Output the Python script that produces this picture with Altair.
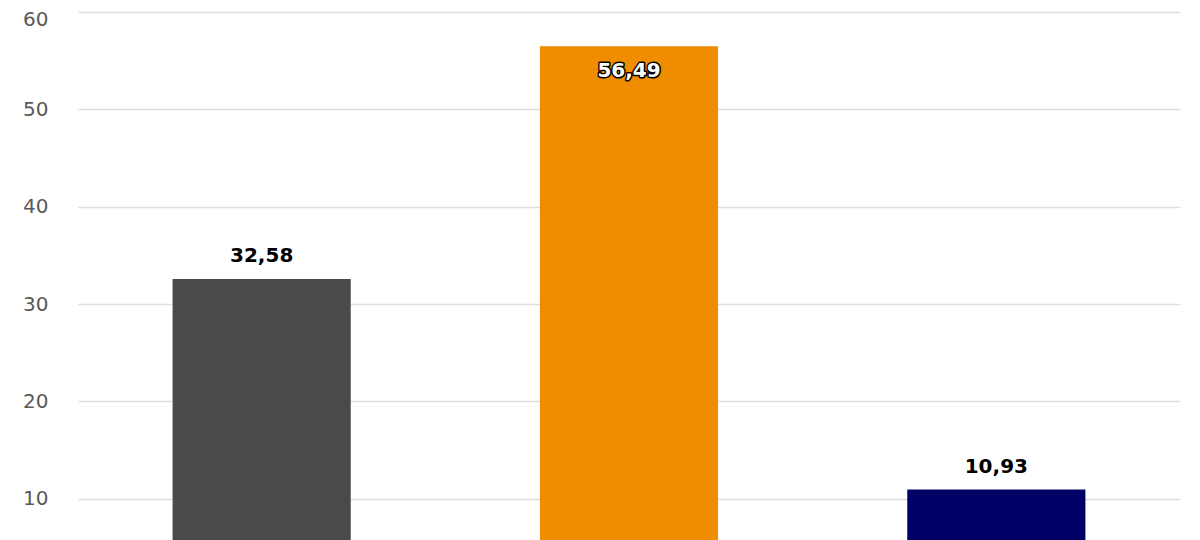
import altair as alt
import pandas as pd

categories = ["A", "B", "C"]
values = [32.58, 56.49, 10.93]
colors = ["#4a4a4a", "#f08c00", "#000066"]
ticks = [10, 20, 30, 40, 50, 60]

df = pd.DataFrame({
    "cat": categories,
    "value": values,
    "color": colors,
    "label": [f"{v:.2f}".replace(".", ",") for v in values],
})

x = alt.X("cat:N", sort=categories, axis=None,
          scale=alt.Scale(paddingInner=0.515, paddingOuter=0.2575))
y = alt.Y("value:Q", scale=alt.Scale(domain=[0, 60], nice=False),
          axis=alt.Axis(values=ticks, title=None, domain=False,
                        ticks=False, labelPadding=30, labelFontSize=20,
                        labelColor="#595959", labelFont="DejaVu Sans",
                        labelOffset={"condition": {"test": "datum.value == 60", "value": 7}, "value": 0},
                        gridColor="#dedede", gridWidth=1.5))

base = alt.Chart(df)
bars = base.mark_bar().encode(x=x, y=y, color=alt.Color("color:N", scale=None))

outside = base.transform_filter("datum.cat != 'B'").mark_text(
    baseline="bottom", dy=-13, fontSize=20, fontWeight="bold", font="DejaVu Sans",
    color="black").encode(x=x, y=y, text="label:N")

inside_outline = base.transform_filter("datum.cat == 'B'").mark_text(
    baseline="top", dy=15, fontSize=20, fontWeight="bold", font="DejaVu Sans",
    fill="black", stroke="black", strokeWidth=3, strokeJoin="round").encode(x=x, y=y, text="label:N")
inside = base.transform_filter("datum.cat == 'B'").mark_text(
    baseline="top", dy=15, fontSize=20, fontWeight="bold", font="DejaVu Sans",
    color="white").encode(x=x, y=y, text="label:N")

chart = alt.layer(bars, outside, inside_outline, inside).properties(
    width=1102, height=584,
    autosize=alt.AutoSizeParams(type="none"),
    padding={"left": 70, "top": 4, "right": 12, "bottom": 10},
).configure_view(stroke=None)

chart.save("out.html", embed_options={"renderer": "svg", "actions": False})
